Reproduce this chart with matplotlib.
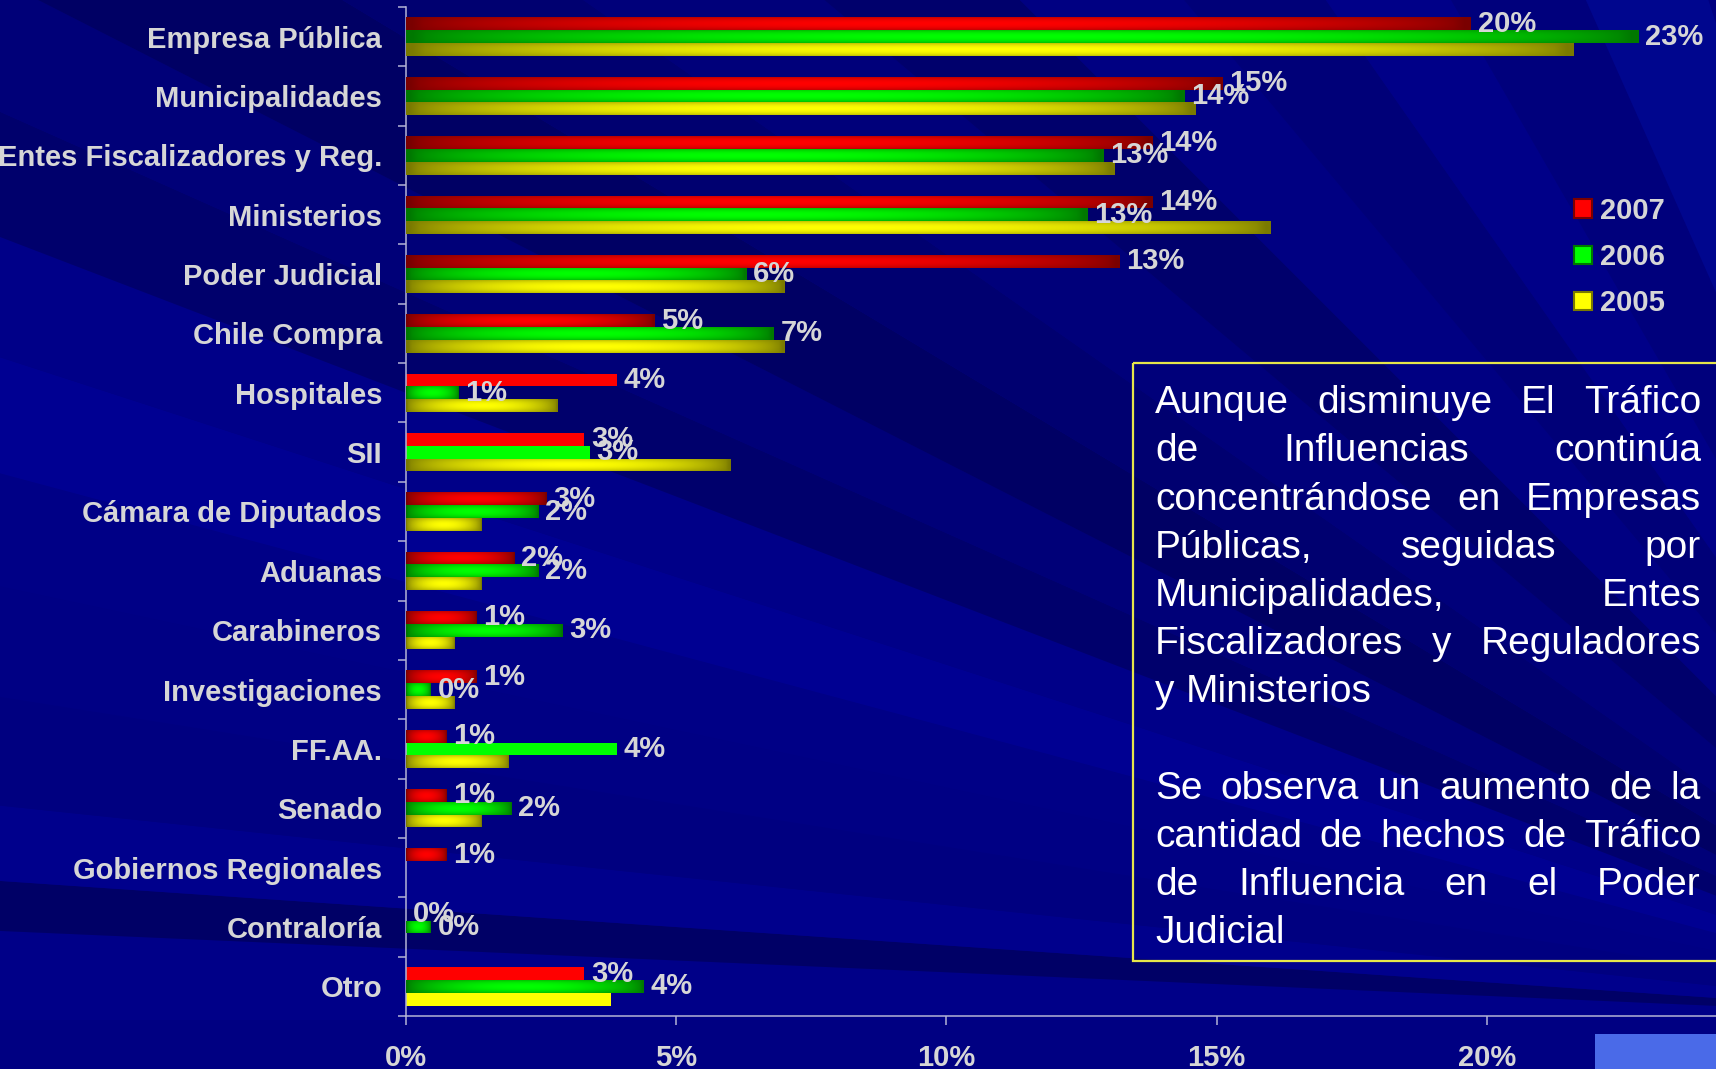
import numpy as np
import matplotlib.pyplot as plt
from matplotlib.patches import Polygon, Rectangle, Patch
from matplotlib.colors import to_rgb

plt.rcParams['font.family'] = ['Liberation Sans', 'DejaVu Sans']

# data (percent of cases)
categories = ["Empresa Pública", "Municipalidades", "Entes Fiscalizadores y Reg.",
              "Ministerios", "Poder Judicial", "Chile Compra", "Hospitales", "SII",
              "Cámara de Diputados", "Aduanas", "Carabineros", "Investigaciones",
              "FF.AA.", "Senado", "Gobiernos Regionales", "Contraloría", "Otro"]
vals_2007 = [19.7, 15.1, 13.8, 13.8, 13.2, 4.6, 3.9, 3.3, 2.6, 2.0, 1.3, 1.3,
             0.75, 0.75, 0.75, 0.0, 3.3]
vals_2006 = [22.8, 14.4, 12.9, 12.6, 6.3, 6.8, 0.97, 3.4, 2.45, 2.45, 2.9, 0.46,
             3.9, 1.95, np.nan, 0.46, 4.4]
vals_2005 = [21.6, 14.6, 13.1, 16.0, 7.0, 7.0, 2.8, 6.0, 1.4, 1.4, 0.9, 0.9,
             1.9, 1.4, np.nan, np.nan, 3.8]
series_names = ["2007", "2006", "2005"]
x_ticks = [0, 5, 10, 15, 20]
x_tick_labels = ["0%", "5%", "10%", "15%", "20%"]

note_par1 = ["Aunque disminuye El Tráfico", "de Influencias continúa",
             "concentrándose en Empresas", "Públicas, seguidas por",
             "Municipalidades, Entes", "Fiscalizadores y Reguladores",
             "y Ministerios"]
note_par2 = ["Se observa un aumento de la", "cantidad de hechos de Tráfico",
             "de Influencia en el Poder", "Judicial"]

# style
bright = ["#ff0000", "#00ff00", "#ffff00"]
dark = ["#7a0000", "#007800", "#7a7a00"]
flat_bars = {(6, 0), (7, 0), (7, 1), (12, 1), (16, 0), (16, 2)}  # bars rendered without shading
label_col = "#d6d6d6"
axis_col = "#b4b4d6"

W, H = 1716, 1069
fig = plt.figure(figsize=(W / 100, H / 100), dpi=100)
fig.patch.set_facecolor("#000082")

# background with soft rays
bg = fig.add_axes([0, 0, 1, 1])
bg.set_xlim(0, W)
bg.set_ylim(H, 0)
bg.axis("off")
origin = (2040, 1020)
edges = [0, 2.5, 3.9, 6, 9, 12, 15, 18, 21, 24, 27, 31, 35, 40, 45, 50, 55, 60, 66, 72, 80, 90]
band_cols = ["#000088", "#000066", "#00008c", "#000080", "#000084", "#000086", "#000092",
             "#000088", "#00006c", "#000078", "#000064", "#000070", "#00007a", "#00006c",
             "#000082", "#000078", "#000088", "#00007c", "#00068e", "#000080", "#000088"]
R = 5000
for a1, a2, c in zip(edges[:-1], edges[1:], band_cols):
    t1, t2 = np.radians(a1), np.radians(a2)
    pts = [origin,
           (origin[0] - R * np.cos(t1), origin[1] - R * np.sin(t1)),
           (origin[0] - R * np.cos(t2), origin[1] - R * np.sin(t2))]
    bg.add_patch(Polygon(pts, closed=True, facecolor=c, edgecolor="none"))

# main chart axes
x0px, x_per_pct = 405.7, 54.06
top_px, bot_px = 7, 1016
ax = fig.add_axes([x0px / W, 1 - bot_px / H, 1 - x0px / W, (bot_px - top_px) / H])
ax.set_facecolor("none")

n = len(categories)
ypos = np.arange(n)
bar_h = 0.216


def shade(b, d, nx=90, ny=24):
    b, d = np.array(to_rgb(b)), np.array(to_rgb(d))
    t = np.linspace(0, 1, nx)
    s = np.linspace(0, 1, ny)
    hx = np.sin(np.pi * t) ** 0.6
    vy = 0.55 + 0.45 * np.sin(np.pi * s) ** 0.7
    k = vy[:, None] * hx[None, :]
    return d + (b - d) * k[..., None]


all_vals = [vals_2007, vals_2006, vals_2005]
for si, vals in enumerate(all_vals):
    yy = ypos + (si - 1) * bar_h
    bars = ax.barh(yy, np.nan_to_num(vals), height=bar_h, color=bright[si],
                   edgecolor="none", zorder=2, label=series_names[si])
    for ci, bar in enumerate(bars):
        w = bar.get_width()
        if w <= 0 or (ci, si) in flat_bars:
            continue
        y0 = bar.get_y()
        im = ax.imshow(shade(bright[si], dark[si]), extent=(0, w, y0 + bar_h, y0),
                       aspect="auto", interpolation="bilinear", zorder=3)
        im.set_clip_path(bar)
    if si < 2:
        for ci, v in enumerate(vals):
            if np.isnan(v):
                continue
            ax.annotate(f"{v:.0f}%", xy=(v, yy[ci]), xytext=(5, 0),
                        textcoords="offset points", va="center", ha="left",
                        fontsize=21, fontweight="bold", color=label_col, zorder=4)

ax.set_xlim(0, (W - x0px) / x_per_pct)
ax.set_ylim(n - 0.5, -0.5)
ax.set_yticks(ypos)
ax.set_yticklabels(categories, fontsize=21, fontweight="bold", color=label_col)
ax.set_yticks(np.arange(-0.5, n), minor=True)
ax.tick_params(axis="y", which="major", length=0, pad=17)
ax.tick_params(axis="y", which="minor", length=6, width=1.1, color=axis_col)
ax.set_xticks(x_ticks)
ax.set_xticklabels(x_tick_labels, fontsize=21, fontweight="bold", color=label_col)
ax.tick_params(axis="x", length=6.5, width=1.1, color=axis_col, pad=14)
for side in ["top", "right"]:
    ax.spines[side].set_visible(False)
for side in ["left", "bottom"]:
    ax.spines[side].set_color(axis_col)
    ax.spines[side].set_linewidth(1.1)

# legend
handles = [Patch(facecolor=bright[i], edgecolor=dark[i], linewidth=1.5) for i in range(3)]
leg = fig.legend(handles, series_names, loc="upper left",
                 bbox_to_anchor=(1574 / W, 1 - 197 / H), frameon=False,
                 prop={"size": 21, "weight": "bold"}, labelcolor=label_col,
                 handlelength=0.6, handleheight=0.6, handletextpad=0.3,
                 labelspacing=0.62, borderpad=0, borderaxespad=0)

# text box with justified text
bg.add_patch(Rectangle((1133, 363), 700, 598, fill=False, edgecolor="#e6e64a",
                       linewidth=1.6, zorder=5))
bg.add_patch(Rectangle((1595, 1034), 200, 60, facecolor="#4a6ae8", edgecolor="none", zorder=5))

renderer = fig.canvas.get_renderer()
left_px, right_px = 1155, 1701
base0, line_step = 413.3, 48.18
lines = [(l, i < len(note_par1) - 1) for i, l in enumerate(note_par1)] + [("", False)] + \
        [(l, i < len(note_par2) - 1) for i, l in enumerate(note_par2)]
for li, (line, justify) in enumerate(lines):
    if not line:
        continue
    yb = base0 + li * line_step
    words = line.split()
    txts = [bg.text(0, yb, w, fontsize=28, color="white", va="baseline", ha="left", zorder=6)
            for w in words]
    widths = [t.get_window_extent(renderer).width for t in txts]
    if justify and len(words) > 1:
        gap = (right_px - left_px - sum(widths)) / (len(words) - 1)
    else:
        gap = 0.278 * 28 * 100 / 72
    x = left_px
    for t, w in zip(txts, widths):
        t.set_x(x)
        x += w + gap

fig.savefig("out.png", dpi=100, facecolor=fig.get_facecolor())
